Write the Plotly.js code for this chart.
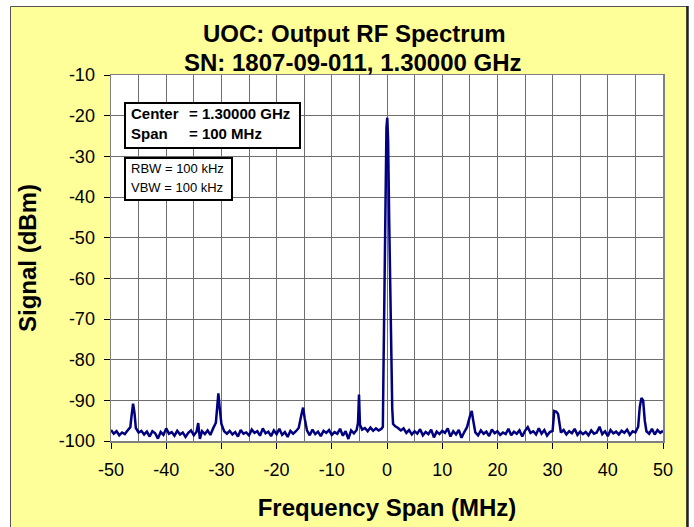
<!DOCTYPE html>
<html>
<head>
<meta charset="utf-8">
<script src="https://cdn.plot.ly/plotly-3.0.1.min.js"></script>
<style>html,body{margin:0;padding:0;background:#fff;}#chart{width:694px;height:527px;}</style>
</head>
<body>
<div id="chart"></div>
<script>
const freqMHz = [
-50.0,-49.5,-49.0,-48.5,-48.0,-47.5,-47.0,-46.5,-46.25,-46.0,-45.75,-45.5,-45.0,-44.5,-44.0,-43.5,-43.0,-42.5,-42.0,-41.5,
-41.0,-40.5,-40.0,-39.5,-39.0,-38.5,-38.0,-37.5,-37.0,-36.5,-36.0,-35.5,-35.0,-34.5,-34.2,-33.9,-33.5,-33.0,-32.5,-32.0,
-31.5,-31.0,-30.75,-30.55,-30.3,-30.0,-29.5,-29.0,-28.5,-28.0,-27.5,-27.0,-26.5,-26.0,-25.5,-25.0,-24.5,-24.0,-23.5,-23.0,
-22.5,-22.0,-21.5,-21.0,-20.5,-20.0,-19.5,-19.0,-18.5,-18.0,-17.5,-17.0,-16.5,-16.0,-15.5,-15.2,-14.9,-14.5,-14.0,-13.5,
-13.0,-12.5,-12.0,-11.5,-11.0,-10.5,-10.0,-9.5,-9.0,-8.5,-8.0,-7.5,-7.0,-6.5,-6.0,-5.5,-5.25,-5.07,-4.9,-4.5,
-4.0,-3.5,-3.0,-2.5,-2.0,-1.5,-1.0,-0.75,-0.65,-0.5,-0.3,-0.1,0.05,0.2,0.4,0.6,0.8,0.95,1.1,1.5,
2.0,2.5,3.0,3.5,4.0,4.5,5.0,5.5,6.0,6.5,7.0,7.5,8.0,8.5,9.0,9.5,10.0,10.5,11.0,11.5,
12.0,12.5,13.0,13.5,14.0,14.5,15.0,15.35,15.6,16.0,16.5,17.0,17.5,18.0,18.5,19.0,19.5,20.0,20.5,21.0,
21.5,22.0,22.5,23.0,23.5,24.0,24.5,25.0,25.5,26.0,26.5,27.0,27.5,28.0,28.5,29.0,29.5,30.0,30.3,30.7,
31.0,31.3,31.5,32.0,32.5,33.0,33.5,34.0,34.5,35.0,35.5,36.0,36.5,37.0,37.5,38.0,38.5,39.0,39.5,40.0,
40.5,41.0,41.5,42.0,42.5,43.0,43.5,44.0,44.5,45.0,45.5,45.8,46.1,46.4,46.7,47.0,47.5,48.0,48.5,49.0,
49.5,50.0
];
const signalDBm = [
-97.3,-98.2,-97.6,-98.6,-97.9,-98.3,-97.4,-96.6,-93.5,-90.8,-93.0,-96.8,-97.9,-97.5,-98.4,-97.7,-98.9,-97.6,-98.1,-99.4,
-97.8,-98.5,-96.9,-98.2,-97.8,-98.7,-97.5,-98.4,-97.9,-99.0,-98.0,-97.4,-98.6,-97.7,-95.6,-99.5,-97.6,-98.3,-97.4,-98.5,
-96.9,-95.5,-91.5,-88.3,-92.0,-95.8,-97.6,-98.2,-97.5,-98.4,-97.8,-98.9,-97.3,-98.2,-97.9,-98.6,-97.2,-98.0,-97.6,-98.7,
-96.9,-98.1,-97.7,-98.8,-97.4,-98.3,-97.0,-98.5,-97.8,-99.0,-97.5,-98.2,-97.6,-96.8,-93.5,-91.8,-94.5,-97.4,-98.6,-97.2,
-98.3,-97.7,-98.8,-97.5,-98.0,-97.3,-98.5,-97.8,-98.2,-97.0,-98.7,-97.6,-99.5,-97.4,-98.1,-97.3,-95.5,-88.6,-96.0,-97.2,
-96.8,-97.6,-96.7,-97.5,-96.9,-97.4,-97.0,-96.5,-84.0,-66.0,-42.0,-23.0,-20.5,-26.0,-46.0,-68.0,-84.0,-92.0,-95.8,-96.4,
-96.8,-97.4,-96.9,-98.0,-97.3,-98.4,-97.6,-98.2,-97.1,-98.6,-97.8,-98.3,-97.2,-99.1,-97.7,-98.3,-97.5,-98.0,-96.9,-98.9,
-97.6,-98.4,-97.3,-99.2,-97.8,-96.6,-94.0,-92.6,-94.8,-97.9,-98.6,-97.4,-98.2,-97.7,-98.8,-97.2,-98.1,-97.6,-98.5,-97.9,
-98.3,-97.0,-98.6,-97.7,-98.2,-97.4,-98.9,-97.5,-96.6,-98.0,-97.6,-98.4,-96.9,-98.2,-97.3,-98.7,-97.8,-97.5,-92.6,-92.8,
-93.4,-96.8,-97.9,-97.3,-98.4,-97.6,-98.1,-97.0,-98.5,-97.7,-98.3,-97.8,-98.6,-97.4,-98.2,-97.9,-96.5,-98.3,-97.6,-98.8,
-97.3,-98.1,-97.7,-98.4,-97.5,-98.0,-97.2,-98.5,-97.6,-97.9,-96.5,-91.5,-89.4,-90.0,-95.0,-97.6,-98.2,-97.0,-98.4,-97.3,
-98.0,-97.5
];
const xTicks = [-50,-40,-30,-20,-10,0,10,20,30,40,50];
const yTicks = [-100,-90,-80,-70,-60,-50,-40,-30,-20,-10];
const titleLines = ["UOC: Output RF Spectrum", "SN: 1807-09-011, 1.30000 GHz"];
const settingsLabels = ["Center", "Span"];
const settingsValues = ["= 1.30000 GHz", "= 100 MHz"];
const bwLines = ["RBW = 100 kHz", "VBW = 100 kHz"];

const FONT = "Arial, 'Liberation Sans', sans-serif";
// pixel helpers for plot area (l=111, r=663, t=75, b=441)
const PL = 111, PR = 663, PT = 75, PB = 441;
const px = X => (X - PL) / (PR - PL);
const py = Y => (PB - Y) / (PB - PT);

const trace = {
  x: freqMHz, y: signalDBm, type: 'scatter', mode: 'lines',
  line: {color: '#000080', width: 2.5}, hoverinfo: 'skip', showlegend: false
};

const gridColor = '#6e6e6e';
const layout = {
  width: 694, height: 527,
  margin: {l: 111, r: 31, t: 75, b: 86, pad: 0},
  paper_bgcolor: '#FFFF99', plot_bgcolor: '#FFFFFF',
  font: {family: FONT, color: '#000'},
  xaxis: {
    range: [-50, 50], tickvals: xTicks, ticktext: xTicks.map(String),
    ticks: 'outside', ticklen: 6, tickcolor: '#000', tickwidth: 1, ticklabelstandoff: 6,
    tickfont: {size: 18, family: FONT, color: '#000'},
    showgrid: true, gridcolor: gridColor, gridwidth: 1,
    minor: {dtick: 5, tick0: 0, showgrid: true, gridcolor: gridColor, gridwidth: 1, ticks: ''},
    showline: true, linecolor: '#808080', linewidth: 1.5, mirror: true, zeroline: false,
    title: {text: '<b>Frequency Span (MHz)</b>', font: {size: 24, family: FONT, color: '#000'}, standoff: 20},
    fixedrange: true
  },
  yaxis: {
    range: [-100, -10], tickvals: yTicks, ticktext: yTicks.map(String),
    ticks: 'outside', ticklen: 6, tickcolor: '#000', tickwidth: 1, ticklabelstandoff: 5,
    tickfont: {size: 18, family: FONT, color: '#000'},
    showgrid: true, gridcolor: gridColor, gridwidth: 1,
    showline: true, linecolor: '#808080', linewidth: 1.5, mirror: true, zeroline: false,
    title: {text: '<b>Signal (dBm)</b>', font: {size: 24, family: FONT, color: '#000'}, standoff: 15},
    fixedrange: true
  },
  shapes: [
    // white surround outside the chart frame
    {type: 'rect', xref: 'paper', yref: 'paper', x0: px(0), x1: px(10), y0: py(540), y1: py(0), fillcolor: '#fff', line: {width: 0}, layer: 'below'},
    {type: 'rect', xref: 'paper', yref: 'paper', x0: px(0), x1: px(694), y0: py(6), y1: py(0), fillcolor: '#fff', line: {width: 0}, layer: 'below'},
    {type: 'rect', xref: 'paper', yref: 'paper', x0: px(688), x1: px(694), y0: py(540), y1: py(0), fillcolor: '#fff', line: {width: 0}, layer: 'below'},
    // chart frame
    {type: 'rect', xref: 'paper', yref: 'paper', x0: px(10.5), x1: px(687), y0: py(540), y1: py(6.5), line: {color: '#555', width: 1}, layer: 'below'},
    {type: 'line', xref: 'paper', yref: 'paper', x0: px(687.5), x1: px(687.5), y0: py(540), y1: py(6), line: {color: '#222', width: 2.5}, layer: 'above'},
    // info boxes
    {type: 'rect', xref: 'paper', yref: 'paper', x0: px(125), x1: px(300), y0: py(148), y1: py(103), fillcolor: '#fff', line: {color: '#000', width: 2}, layer: 'above'},
    {type: 'rect', xref: 'paper', yref: 'paper', x0: px(125), x1: px(232), y0: py(200), y1: py(158), fillcolor: '#fff', line: {color: '#000', width: 2}, layer: 'above'}
  ],
  annotations: [
    {text: '<b>' + titleLines[0] + '</b>', xref: 'paper', yref: 'paper', x: px(354), y: py(34), xanchor: 'center', yanchor: 'middle', showarrow: false, font: {size: 24, family: FONT, color: '#000'}},
    {text: '<b>' + titleLines[1] + '</b>', xref: 'paper', yref: 'paper', x: px(353), y: py(62), xanchor: 'center', yanchor: 'middle', showarrow: false, font: {size: 24, family: FONT, color: '#000'}},
    {text: '<b>' + settingsLabels[0] + '</b>', xref: 'paper', yref: 'paper', x: px(129), y: py(113.5), xanchor: 'left', yanchor: 'middle', showarrow: false, font: {size: 15, family: FONT, color: '#000'}},
    {text: '<b>' + settingsValues[0] + '</b>', xref: 'paper', yref: 'paper', x: px(187), y: py(113.5), xanchor: 'left', yanchor: 'middle', showarrow: false, font: {size: 15, family: FONT, color: '#000'}},
    {text: '<b>' + settingsLabels[1] + '</b>', xref: 'paper', yref: 'paper', x: px(129), y: py(133.5), xanchor: 'left', yanchor: 'middle', showarrow: false, font: {size: 15, family: FONT, color: '#000'}},
    {text: '<b>' + settingsValues[1] + '</b>', xref: 'paper', yref: 'paper', x: px(187), y: py(133.5), xanchor: 'left', yanchor: 'middle', showarrow: false, font: {size: 15, family: FONT, color: '#000'}},
    {text: bwLines[0], xref: 'paper', yref: 'paper', x: px(129), y: py(168.5), xanchor: 'left', yanchor: 'middle', showarrow: false, font: {size: 13, family: FONT, color: '#000'}},
    {text: bwLines[1], xref: 'paper', yref: 'paper', x: px(129), y: py(187.5), xanchor: 'left', yanchor: 'middle', showarrow: false, font: {size: 13, family: FONT, color: '#000'}}
  ]
};

Plotly.newPlot('chart', [trace], layout, {staticPlot: true, displayModeBar: false});
</script>
</body>
</html>
